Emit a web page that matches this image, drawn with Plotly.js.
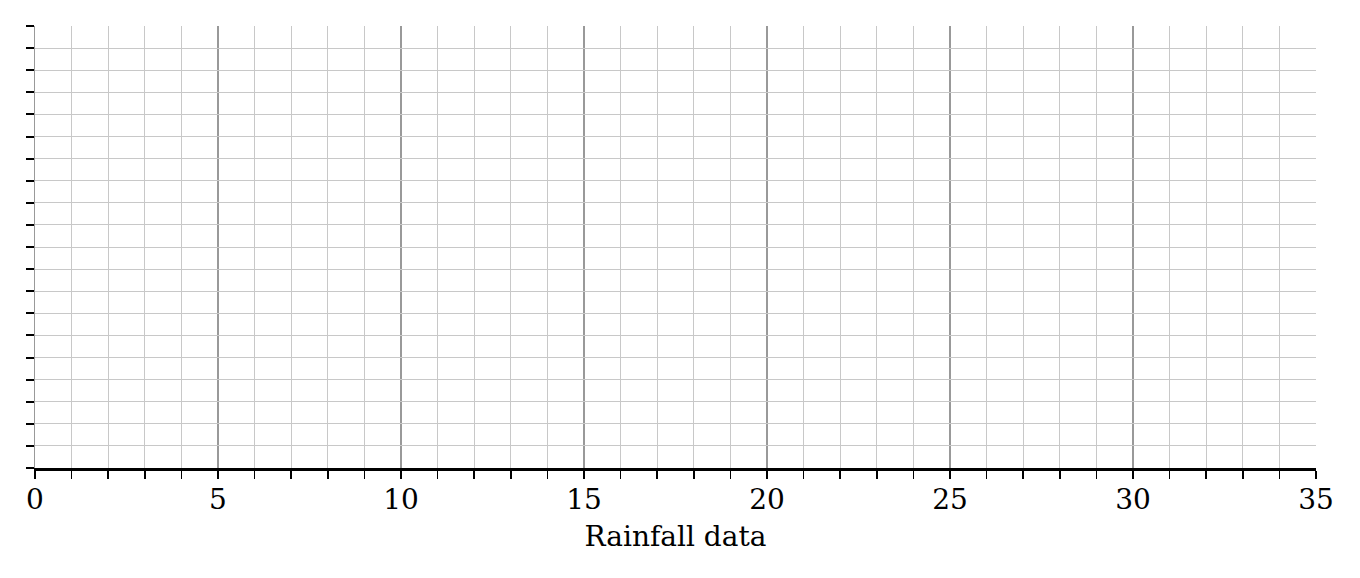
<!DOCTYPE html>
<html>
<head>
<meta charset="utf-8">
<script src="https://cdn.plot.ly/plotly-3.0.1.min.js"></script>
<style>html,body{margin:0;padding:0;background:#fff;}#chart{width:1360px;height:578px;}</style>
</head>
<body>
<div id="chart"></div>
<script>
// Chart content (the reference is an empty grid with no plotted data)
const xTitle = "Rainfall data";
const xRange = [0, 35];
const yRange = [0, 20];
const xTickVals = [0, 5, 10, 15, 20, 25, 30, 35];
const xTickText = ["0", "5", "10", "15", "20", "25", "30", "35"];
const rainX = [];
const rainY = [];

const traces = [{
  type: "scatter", mode: "markers", x: rainX, y: rainY,
  showlegend: false, hoverinfo: "skip"
}];

const layout = {
  width: 1360, height: 578,
  margin: {l: 35, r: 44, t: 26, b: 110, pad: 0},
  paper_bgcolor: "#fff", plot_bgcolor: "#fff",
  font: {family: "DejaVu Serif", color: "#000"},
  showlegend: false,
  xaxis: {
    range: xRange, autorange: false,
    tickmode: "array", tickvals: xTickVals, ticktext: xTickText,
    ticks: "outside", ticklen: 8, tickwidth: 2, tickcolor: "#000",
    ticklabelstandoff: -4,
    tickfont: {family: "DejaVu Serif", size: 28, color: "#000"},
    showline: true, linecolor: "#000", linewidth: 3,
    showgrid: true, gridcolor: "#999", gridwidth: 1.5,
    zeroline: false,
    minor: {dtick: 1, ticks: "outside", ticklen: 8, tickwidth: 1.5, tickcolor: "#000",
            showgrid: true, gridcolor: "#c8c8c8", gridwidth: 1},
    title: {text: xTitle, font: {family: "DejaVu Serif", size: 28, color: "#000"}, standoff: 12}
  },
  yaxis: {
    range: yRange, autorange: false,
    dtick: 1, tick0: 0,
    ticks: "outside", ticklen: 8, tickwidth: 2, tickcolor: "#000",
    showticklabels: false,
    showline: true, linecolor: "#999", linewidth: 1.5,
    showgrid: true, gridcolor: "#c8c8c8", gridwidth: 1,
    zeroline: false
  }
};

Plotly.newPlot("chart", traces, layout, {displayModeBar: false, staticPlot: true});
</script>
</body>
</html>
